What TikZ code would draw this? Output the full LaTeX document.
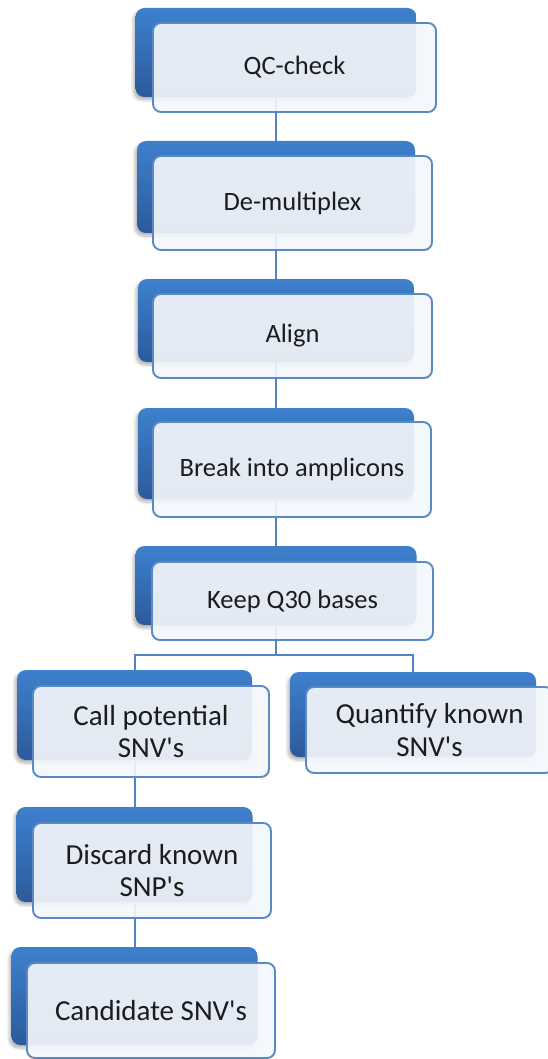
\documentclass[tikz,border=0pt]{standalone}
\usepackage{fontspec}
\newfontfamily\boxfont{Carlito}
\usetikzlibrary{shadows.blur}
\definecolor{bluetop}{HTML}{3E80CD}
\definecolor{bluebot}{HTML}{2C5A9B}
\definecolor{frontfill}{HTML}{F3F6FB}
\definecolor{frontline}{HTML}{5A8AC6}
\definecolor{conn}{HTML}{5383C3}
\definecolor{txt}{HTML}{1C1C1C}
\begin{document}
\begin{tikzpicture}[x=1pt,y=-1pt,
  backbox/.style={rectangle, rounded corners=9pt, top color=bluetop, bottom color=bluebot,
    draw=none, inner sep=0pt,
    blur shadow={shadow xshift=-2pt, shadow yshift=-3pt, shadow blur steps=6,
      shadow blur radius=3pt, shadow opacity=30}},
  frontbox/.style={rectangle, rounded corners=8pt, draw=frontline, line width=1.9pt,
    fill=frontfill, fill opacity=0.92, text opacity=1, inner sep=0pt, align=center,
    font=\boxfont\fontsize{26.5}{32}\selectfont, text=txt},
  bigtext/.style={font=\boxfont\fontsize{29}{32.5}\selectfont},
  link/.style={draw=conn, line width=2pt}]
\useasboundingbox (0,0) rectangle (547,1059);
% back boxes
\node[backbox, minimum width=281pt, minimum height=89pt] (b1) at (276,52.5) {};
\node[backbox, minimum width=278pt, minimum height=92pt] (b2) at (276,187) {};
\node[backbox, minimum width=276pt, minimum height=83pt] (b3) at (276,320.5) {};
\node[backbox, minimum width=276pt, minimum height=91pt] (b4) at (276,453.5) {};
\node[backbox, minimum width=281pt, minimum height=79pt] (b5) at (276,585.5) {};
\node[backbox, minimum width=235pt, minimum height=90pt] (b6) at (134.5,715) {};
\node[backbox, minimum width=246pt, minimum height=85pt] (b9) at (413,714.5) {};
\node[backbox, minimum width=236pt, minimum height=95pt] (b7) at (134.5,854.5) {};
\node[backbox, minimum width=246pt, minimum height=98pt] (b8) at (134.5,996) {};
% connectors
\coordinate (split) at (276,655);
\draw[link] (b1.south) -- (b2.north);
\draw[link] (b2.south) -- (b3.north);
\draw[link] (b3.south) -- (b4.north);
\draw[link] (b4.south) -- (b5.north);
\draw[link] (b5.south) -- (split) -| (b6.north);
\draw[link] (split) -| (b9.north);
\draw[link] (b6.south) -- (b7.north);
\draw[link] (b7.south) -- (b8.north);
% front boxes
\node[frontbox, minimum width=283pt, minimum height=89pt] (f1) at (294.5,67.5) {QC-check};
\node[frontbox, minimum width=279pt, minimum height=94pt] (f2) at (292.5,203) {De-multiplex};
\node[frontbox, minimum width=279pt, minimum height=84pt] (f3) at (292.5,336) {Align};
\node[frontbox, minimum width=278pt, minimum height=95pt] (f4) at (292,469.5) {Break into amplicons};
\node[frontbox, minimum width=281pt, minimum height=78pt] (f5) at (292.5,601) {Keep Q30 bases};
\node[frontbox, bigtext, minimum width=236pt, minimum height=91pt] (f6) at (151,731.5) {Call potential\\SNV's};
\node[frontbox, bigtext, minimum width=247pt, minimum height=86pt] (f9) at (429.5,730) {Quantify known\\SNV's};
\node[frontbox, bigtext, minimum width=238pt, minimum height=95pt] (f7) at (152,870.5) {Discard known\\SNP's};
\node[frontbox, bigtext, minimum width=248pt, minimum height=95pt] (f8) at (151,1010.5) {Candidate SNV's};
\end{tikzpicture}
\end{document}
